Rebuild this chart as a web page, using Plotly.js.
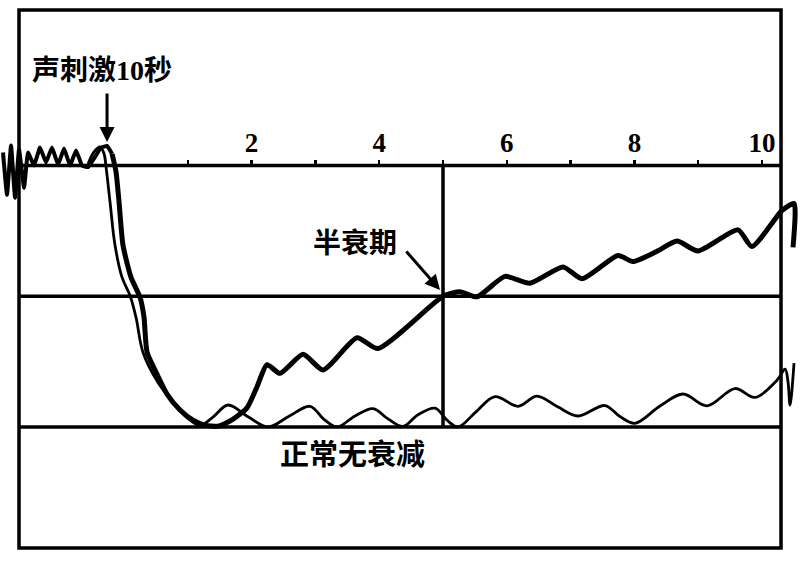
<!DOCTYPE html>
<html>
<head>
<meta charset="utf-8">
<script src="https://cdn.plot.ly/plotly-3.0.1.min.js"></script>
<style>
  html, body { margin: 0; padding: 0; background: #fff; }
  #chart { width: 802px; height: 561px; }
</style>
</head>
<body>
<div id="chart"></div>
<script>
// Resting response before the 10 s sound stimulus (response in % of baseline)
const baselineX = [-1.897, -1.834, -1.771, -1.708, -1.646, -1.567, -1.505, -1.411, -1.317, -1.223,
                   -1.129, -1.034, -0.940, -0.846, -0.752, -0.658, -0.564, -0.455, -0.361, -0.266, -0.188];
const baselineY = [105.0, 88.8, 107.7, 87.7, 106.2, 91.5, 105.0, 100.0, 106.9, 101.2,
                   106.9, 100.4, 106.5, 100.0, 105.8, 100.0, 99.4, 103.3, 106.8, 107.5, 104.5];

// Abnormal decay curve: recovers to 50 % at 5 s (half-decay time)
const decayX = [-0.188, -0.125, -0.078, -0.016, 0.110, 0.251, 0.313, 0.361, 0.517, 0.674,
                0.878, 1.082, 1.270, 1.473, 1.693, 1.928, 2.085, 2.241, 2.445, 2.806,
                3.119, 3.652, 3.981, 5.000, 5.266, 5.533, 5.972, 6.364, 6.881, 7.179,
                7.743, 7.978, 8.354, 8.668, 8.997, 9.624, 9.843, 10.313, 10.502, 10.486];
const decayY = [104.5, 97.5, 86.0, 69.5, 57.2, 49.6, 42.0, 28.6, 20.2, 12.6,
                6.5, 2.6, 0.7, 0.3, 2.7, 7.3, 15.4, 23.8, 20.5, 27.8,
                21.8, 34.1, 30.0, 50.0, 51.7, 49.8, 57.6, 55.0, 61.2, 56.7,
                65.6, 63.3, 67.2, 71.1, 67.3, 75.4, 69.0, 82.8, 85.5, 68.7];

// Normal curve: stays near the floor, no decay
const normalX = [-0.564, -0.470, -0.376, -0.313, -0.282, -0.219, -0.141, -0.031, 0.094, 0.188,
                 0.298, 0.533, 0.768, 0.987, 1.191, 1.395, 1.630, 1.944, 2.257, 2.586,
                 2.915, 3.135, 3.339, 3.621, 3.903, 4.138, 4.373, 4.608, 4.875, 5.063,
                 5.235, 5.517, 5.815, 6.176, 6.473, 6.803, 7.116, 7.539, 7.774, 8.009,
                 8.401, 8.762, 9.138, 9.577, 9.890, 10.235, 10.361, 10.408, 10.439, 10.502];
const normalY = [100.6, 105.2, 107.1, 104.5, 99.5, 86.0, 69.5, 57.2, 50.3, 41.9,
                 28.5, 17.0, 9.4, 3.6, 0.6, 3.8, 8.4, 3.9, 0.0, 4.1,
                 7.9, 2.9, 0.0, 4.2, 7.0, 3.1, 0.2, 4.7, 7.2, 2.6,
                 0.0, 5.8, 11.6, 7.9, 11.8, 7.6, 4.2, 8.2, 4.0, 1.4,
                 8.0, 12.6, 8.1, 14.7, 11.3, 17.9, 22.1, 17.2, 8.4, 24.4];

// Time axis ticks (s)
const tickVals = [1, 2, 3, 4, 5, 6, 7, 8, 9, 10];
const tickText = ['', '2', '', '4', '', '6', '', '8', '', '10'];

// Reference levels: floor, half response, full response
const refLevels = [0, 50, 100];
const halfDecayTime = 5;

// Frame edges (time axis units) and visible ranges
const frameX = [-1.646, 10.298];
const xRange = [-1.944, 10.627];
const yRange = [-46.3, 159.5];

const serif = 'Liberation Serif, DejaVu Serif, serif';
const cjk = 'Noto Sans CJK SC, Noto Sans CJK JP, sans-serif';

const traces = [
  { x: baselineX, y: baselineY, mode: 'lines', hoverinfo: 'skip',
    line: { color: '#000', width: 4, shape: 'spline', smoothing: 0.3 } },
  { x: decayX, y: decayY, mode: 'lines', hoverinfo: 'skip',
    line: { color: '#000', width: 5, shape: 'spline', smoothing: 0.6 } },
  { x: normalX, y: normalY, mode: 'lines', hoverinfo: 'skip',
    line: { color: '#000', width: 2.8, shape: 'spline', smoothing: 1 } }
];

const shapes = [
  { type: 'rect', xref: 'x', yref: 'paper', x0: frameX[0], x1: frameX[1], y0: 0, y1: 1,
    line: { color: '#000', width: 3.5 } },
  { type: 'line', xref: 'x', yref: 'y', x0: halfDecayTime, x1: halfDecayTime, y0: 0, y1: 100,
    line: { color: '#000', width: 3.5 } }
];
refLevels.forEach(v => shapes.push({
  type: 'line', xref: 'x', yref: 'y', x0: frameX[0], x1: frameX[1], y0: v, y1: v,
  line: { color: '#000', width: 3.5 }
}));

const layout = {
  width: 802, height: 561,
  margin: { l: 0, r: 0, t: 10, b: 13, pad: 0 },
  paper_bgcolor: '#fff', plot_bgcolor: '#fff',
  showlegend: false,
  xaxis: {
    range: xRange, anchor: 'free',
    position: (100 - yRange[0]) / (yRange[1] - yRange[0]),
    side: 'top', showline: false, showgrid: false, zeroline: false,
    tickmode: 'array', tickvals: tickVals, ticktext: tickText,
    ticks: 'outside', ticklen: 6, tickwidth: 2.5, tickcolor: '#000',
    ticklabelstandoff: -3,
    tickfont: { family: serif, size: 27, color: '#000', weight: 'bold' }
  },
  yaxis: {
    range: yRange, showline: false, zeroline: false, showgrid: false,
    showticklabels: false, ticks: ''
  },
  shapes: shapes,
  annotations: [
    { x: -0.345, y: 137.3, xref: 'x', yref: 'y', showarrow: false,
      text: '声刺激<span style="font-family:Liberation Serif">10</span>秒',
      font: { family: cjk, size: 28, color: '#000', weight: 'bold' } },
    { x: -0.266, y: 109, xref: 'x', yref: 'y', text: '', showarrow: true,
      ax: 0, ay: -50, arrowhead: 2, arrowsize: 1, arrowwidth: 3, arrowcolor: '#000' },
    { x: 3.62, y: 71.1, xref: 'x', yref: 'y', showarrow: false, text: '半衰期',
      font: { family: cjk, size: 28, color: '#000', weight: 'bold' } },
    { x: 4.953, y: 52.4, xref: 'x', yref: 'y', text: '', showarrow: true,
      ax: -35, ay: -40, arrowhead: 2, arrowsize: 1, arrowwidth: 3, arrowcolor: '#000' },
    { x: 3.574, y: -9.6, xref: 'x', yref: 'y', showarrow: false, text: '正常无衰减',
      font: { family: cjk, size: 29, color: '#000', weight: 'bold' } }
  ]
};

Plotly.newPlot('chart', traces, layout, { staticPlot: true, displayModeBar: false });
</script>
</body>
</html>
